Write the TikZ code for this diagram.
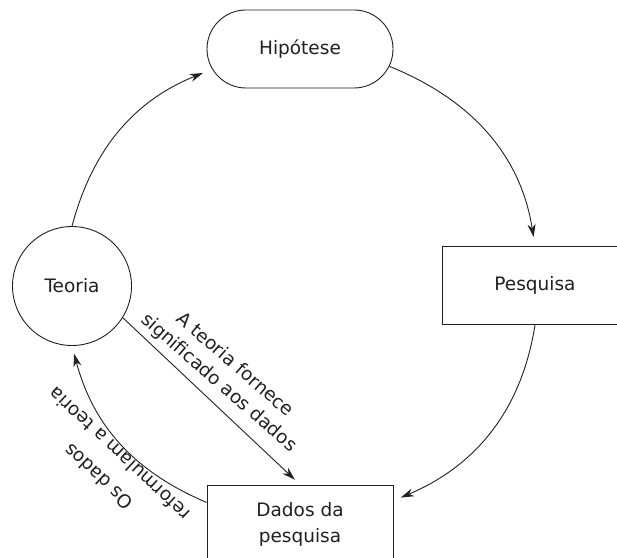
\documentclass[tikz,border=0pt]{standalone}
\usepackage{fontspec}
\setmainfont{DejaVu Sans}
\usetikzlibrary{arrows.meta,shapes.misc}
\definecolor{txt}{HTML}{231F20}
\definecolor{ln}{HTML}{231F20}
\begin{document}
\begin{tikzpicture}[x=1pt,y=1pt,
  lbl/.style={font=\fontsize{18.5}{26}\selectfont, text=txt, align=center, inner sep=0pt},
  box/.style={lbl, draw=ln, line width=0.9pt, minimum width=186pt, minimum height=78pt},
  pill/.style={box, rounded rectangle},
  circ/.style={lbl, draw=ln, line width=0.9pt, circle, minimum size=119pt},
  conn/.style={draw=ln, line width=0.9pt, -{Stealth[length=13pt,width=8pt,inset=4pt]}}
]
\useasboundingbox (0,0) rectangle (617,557);
\clip (0,0) rectangle (617,557);

\node[pill] (hip) at (300,508) {Hipótese};
\node[circ] (teoria) at (72,271) {Teoria};
\node[box] (pesq) at (535,271.5) {Pesquisa};
\node[box] (dados) at (300,33) {Dados da\\pesquisa};

\draw[conn, shorten >=10pt] (teoria.north) to[out=75,in=202] (hip.193);
\draw[conn, shorten >=9pt] (hip.-11) to[out=-22,in=99] (pesq.north);
\draw[conn, shorten >=8pt] (pesq.south) to[out=-99,in=23] (dados.14.5);
\draw[conn, shorten >=7pt] (teoria.-32) -- (dados.north);
\draw[conn, shorten >=8pt] (dados.167) to[out=157,in=285] (teoria.south);

\node[lbl, rotate=-41, font=\fontsize{18.5}{24}\selectfont] (la) at (226.5,183) {A teoria fornece\\significado aos dados};
\node[lbl, rotate=137, font=\fontsize{18.5}{31}\selectfont] (lb) at (108.5,91.5) {Os dados\\reformulam a teoria};
\end{tikzpicture}
\end{document}
